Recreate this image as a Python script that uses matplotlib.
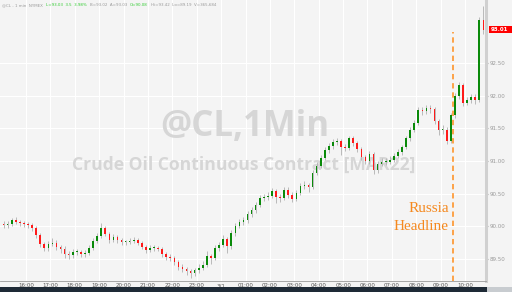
import matplotlib
matplotlib.use("Agg")
import matplotlib.pyplot as plt
import matplotlib.transforms as mtransforms
from matplotlib.patches import Rectangle
import numpy as np

# 10-minute candles starting at 15:00 (minutes since 15:00 = 10*k + 5)
closes = [
    90.02, 90.04, 90.10, 90.07, 90.05, 90.04, 90.02, 89.98, 89.87, 89.73,
    89.67, 89.73, 89.75, 89.69, 89.66, 89.58, 89.56, 89.61, 89.61, 89.58,
    89.59, 89.67, 89.78, 89.85, 89.98, 89.89, 89.79, 89.84, 89.79, 89.76,
    89.76, 89.78, 89.79, 89.75, 89.69, 89.64, 89.67, 89.67, 89.66, 89.58,
    89.53, 89.52, 89.46, 89.38, 89.35, 89.32, 89.29, 89.33, 89.37, 89.41,
    89.55, 89.52, 89.67, 89.72, 89.81, 89.70, 89.90, 90.01, 90.07, 90.10,
    90.19, 90.25, 90.33, 90.43, 90.45, 90.47, 90.54, 90.45, 90.43, 90.56,
    90.48, 90.42, 90.51, 90.62, 90.63, 90.60, 90.82, 90.93, 91.05, 91.17,
    91.23, 91.29, 91.31, 91.21, 91.20, 91.35, 91.28, 91.19, 91.06, 91.00,
    91.11, 90.86, 90.96, 90.99, 90.99, 91.02, 91.08, 91.14, 91.21, 91.35,
    91.48, 91.58, 91.78, 91.77, 91.81, 91.80, 91.61, 91.48, 91.48, 91.31,
    91.70, 91.99, 92.16, 91.89, 91.93, 91.98, 91.93, 93.15, 93.01,
]
highs = [
    90.08, 90.09, 90.13, 90.14, 90.10, 90.08, 90.07, 90.05, 90.01, 89.90,
    89.77, 89.78, 89.82, 89.79, 89.72, 89.70, 89.63, 89.66, 89.66, 89.64,
    89.64, 89.71, 89.82, 89.90, 90.05, 90.01, 89.92, 89.88, 89.87, 89.82,
    89.80, 89.83, 89.84, 89.82, 89.78, 89.72, 89.71, 89.71, 89.70, 89.69,
    89.61, 89.58, 89.55, 89.49, 89.42, 89.38, 89.35, 89.37, 89.42, 89.47,
    89.62, 89.58, 89.71, 89.76, 89.87, 89.84, 89.95, 90.06, 90.12, 90.15,
    90.23, 90.30, 90.38, 90.48, 90.50, 90.52, 90.59, 90.58, 90.49, 90.60,
    90.60, 90.52, 90.56, 90.66, 90.69, 90.67, 90.86, 90.98, 91.09, 91.21,
    91.28, 91.33, 91.36, 91.34, 91.26, 91.39, 91.38, 91.31, 91.22, 91.10,
    91.15, 91.14, 91.00, 91.04, 91.04, 91.07, 91.12, 91.18, 91.25, 91.39,
    91.52, 91.63, 91.83, 91.83, 91.86, 91.85, 91.83, 91.64, 91.55, 91.52,
    91.74, 92.04, 92.21, 92.19, 91.98, 92.03, 92.02, 93.20, 93.37,
]
lows = [
    89.97, 89.98, 90.01, 90.03, 90.01, 89.99, 89.97, 89.93, 89.82, 89.68,
    89.62, 89.63, 89.70, 89.64, 89.60, 89.52, 89.50, 89.52, 89.56, 89.53,
    89.54, 89.56, 89.64, 89.75, 89.82, 89.85, 89.75, 89.76, 89.75, 89.72,
    89.72, 89.73, 89.74, 89.71, 89.65, 89.60, 89.61, 89.63, 89.62, 89.54,
    89.49, 89.47, 89.41, 89.33, 89.30, 89.26, 89.21, 89.24, 89.29, 89.33,
    89.38, 89.42, 89.49, 89.63, 89.68, 89.60, 89.66, 89.86, 89.97, 90.02,
    90.06, 90.15, 90.21, 90.29, 90.39, 90.41, 90.43, 90.36, 90.37, 90.40,
    90.44, 90.37, 90.39, 90.48, 90.58, 90.52, 90.57, 90.78, 90.89, 91.01,
    91.13, 91.19, 91.25, 91.10, 91.15, 91.17, 91.23, 91.14, 91.01, 90.95,
    90.96, 90.80, 90.82, 90.92, 90.94, 90.95, 90.98, 91.04, 91.10, 91.18,
    91.31, 91.44, 91.55, 91.70, 91.72, 91.74, 91.56, 91.40, 91.42, 91.26,
    91.28, 91.66, 91.95, 91.84, 91.85, 91.89, 91.88, 91.90, 92.95,
]
first_open = 90.03

hour_labels = ["16:00", "17:00", "18:00", "19:00", "20:00", "21:00", "22:00", "23:00",
               "3/1", "01:00", "02:00", "03:00", "04:00", "05:00", "06:00", "07:00",
               "08:00", "09:00", "10:00"]
price_ticks = [89.50, 90.00, 90.50, 91.00, 91.50, 92.00, 92.50]
headline_minute = 1110  # 09:30

W, H = 512, 292
fig = plt.figure(figsize=(W / 100, H / 100), dpi=100)
fig.patch.set_facecolor("#f4f4f4")
ax = fig.add_axes([0, 1 - 281 / H, 486 / W, 281 / H])
ax.set_facecolor("#f4f4f4")

opens = [first_open] + closes[:-1]
minutes = np.arange(len(closes)) * 10 + 5
o = np.array(opens)
c = np.array(closes)
up = c >= o
colors = np.where(up, "#0a8a0a", "#ff1a1a")
bottoms = np.minimum(o, c)
heights = np.maximum(np.abs(c - o), 0.012)

ax.vlines(minutes, lows, highs, color="#b0b0b0", lw=0.6, zorder=2)
ax.bar(minutes, heights, bottom=bottoms, width=4, color=colors, linewidth=0, zorder=3)

ax.set_xlim(-3.9, 1191.6)
ax.set_ylim(89.166, 93.463)

# watermark
ax.text(0.503, 0.548, "@CL,1Min", transform=ax.transAxes, ha="center", va="center",
        fontsize=25, fontweight="bold", family="Open Sans", color="#d6d6d6", zorder=1)
ax.text(0.502, 0.415, "Crude Oil Continuous Contract [MAR22]", transform=ax.transAxes,
        ha="center", va="center", fontsize=12.6, fontweight="bold", family="Open Sans",
        color="#d6d6d6", zorder=1)

# headline marker
ax.vlines(headline_minute, 89.166, 92.97, color="#ff8c1a", lw=1.1,
          linestyles=(0, (3.5, 2.5)), zorder=4)
ax.text(headline_minute - 10, 90.28, "Russia", ha="right", va="center", fontsize=11,
        family="Liberation Serif", color="#f5891f", zorder=4)
ax.text(headline_minute - 10, 90.00, "Headline", ha="right", va="center", fontsize=11,
        family="Liberation Serif", color="#f5891f", zorder=4)

# axes styling
ax.set_xticks(np.arange(1, 20) * 60)
ax.set_xticklabels(hour_labels)
ax.set_yticks(price_ticks)
ax.set_yticklabels([f"{p:.2f}" for p in price_ticks])
ax.yaxis.tick_right()
ax.tick_params(axis="x", length=0, labelsize=4, labelcolor="#555555", pad=1.5)
ax.tick_params(axis="y", length=1.5, color="#aaaaaa", labelsize=4, labelcolor="#9a9a9a",
               pad=1, direction="out")
ax.grid(True, color="white", lw=0.8)
ax.set_axisbelow(True)
for side in ["top", "left"]:
    ax.spines[side].set_visible(False)
ax.spines["bottom"].set_color("#9a9a9a")
ax.spines["bottom"].set_linewidth(0.6)
ax.spines["right"].set_color("#d0d0d0")
ax.spines["right"].set_linewidth(2.2)

# last price tag
tr = mtransforms.blended_transform_factory(fig.transFigure, ax.transData)
ax.add_patch(Rectangle((489 / W, closes[-1] - 0.048), 23 / W, 0.096, transform=tr,
                       facecolor="#ff0000", edgecolor="none", clip_on=False, zorder=5))
ax.text(491 / W, closes[-1], f"{closes[-1]:.2f}", transform=tr, ha="left", va="center",
        fontsize=4, color="white", fontweight="bold", clip_on=False, zorder=6)

# header line, segments placed one after another
header = [
    ("@CL - 1 min  NYMEX", "#9a9a9a"),
    ("L=93.03  3.5  3.98%", "#33cc33"),
    ("B=93.02  A=93.03", "#9a9a9a"),
    ("O=90.08", "#33cc33"),
    ("Hi=93.42  Lo=89.19  V=365,684", "#9a9a9a"),
]
renderer = fig.canvas.get_renderer()
x = 2
for txt, col in header:
    t = fig.text(x / W, 1 - 5 / H, txt, ha="left", va="center", fontsize=2.9, color=col)
    x += t.get_window_extent(renderer).width + 3

# bottom bar
fig.patches.append(Rectangle((0, 0), 1, 5 / H, transform=fig.transFigure,
                             facecolor="#1e2a36", edgecolor="none"))
fig.patches.append(Rectangle((487 / W, 0), 25 / W, 5 / H, transform=fig.transFigure,
                             facecolor="#c8ccd0", edgecolor="none"))

fig.savefig("out.png", dpi=100, facecolor=fig.get_facecolor())
